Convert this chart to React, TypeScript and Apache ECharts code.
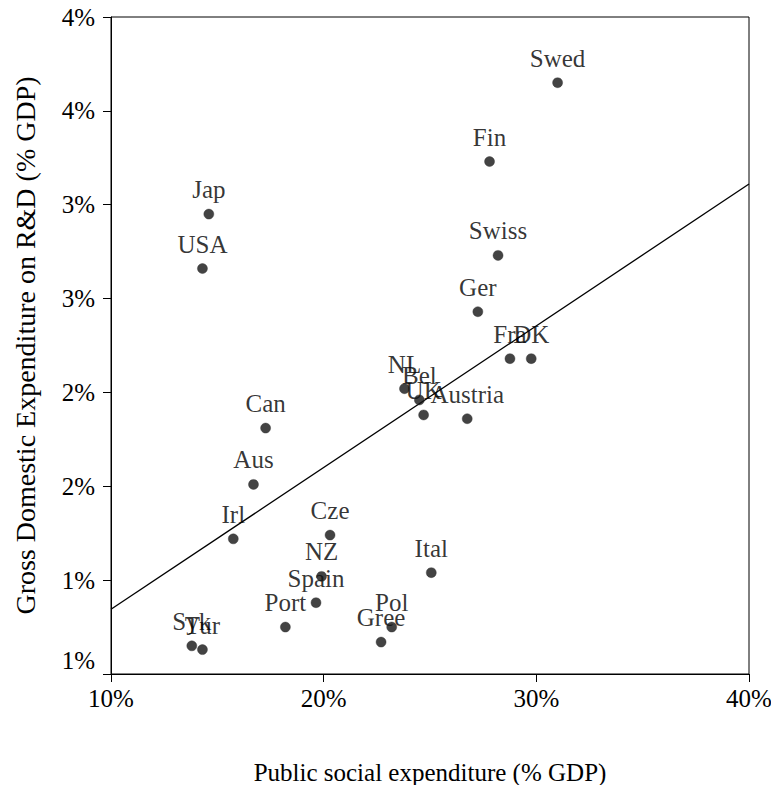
import React, { useEffect, useRef } from "react";
import * as echarts from "echarts";

const countries = ["Swed", "Fin", "Jap", "USA", "Swiss", "Ger", "Fra", "DK", "NL", "Bel", "UK", "Austria", "Can", "Aus", "Irl", "Cze", "NZ", "Spain", "Port", "Ital", "Pol", "Gree", "Syk", "Tur"];
const socialExp = [31.0, 27.8, 14.6, 14.3, 28.2, 27.25, 28.76, 29.76, 23.8, 24.5, 24.7, 26.75, 17.27, 16.7, 15.75, 20.3, 19.9, 19.64, 18.2, 25.06, 23.2, 22.7, 13.8, 14.3];
const rdExp = [3.65, 3.23, 2.95, 2.66, 2.73, 2.43, 2.18, 2.18, 2.02, 1.96, 1.88, 1.86, 1.81, 1.51, 1.22, 1.24, 1.02, 0.88, 0.75, 1.04, 0.75, 0.67, 0.65, 0.63];
const trendX = [10, 40];
const trendY = [0.845, 3.11];

const FONT = "'Liberation Serif', 'Times New Roman', serif";

export default function App() {
  const ref = useRef<HTMLDivElement>(null);
  useEffect(() => {
    if (!ref.current) return;
    const chart = echarts.init(ref.current, null, { renderer: "svg" });
    const pts = countries.map((c, i) => ({ name: c, value: [socialExp[i], rdExp[i]] }));
    const textBase = { color: "#000", fontFamily: FONT, fontSize: 25 };
    chart.setOption({
      animation: false,
      grid: {
        left: 111,
        right: 22,
        top: 17,
        bottom: 111,
        show: true,
        borderColor: "#000",
        borderWidth: 1,
        containLabel: false,
        outerBoundsMode: "none",
      },
      xAxis: {
        type: "value",
        min: 10,
        max: 40,
        interval: 10,
        axisLine: { show: true, lineStyle: { color: "#000", width: 1 } },
        axisTick: { show: true, length: 8, lineStyle: { color: "#000" } },
        splitLine: { show: false },
        axisLabel: { ...textBase, margin: 12, formatter: (v: number) => Math.round(v) + "%" },
        name: "Public social expenditure (% GDP)",
        nameLocation: "middle",
        nameGap: 86,
        nameTextStyle: textBase,
      },
      yAxis: {
        type: "value",
        min: 0.5,
        max: 4,
        interval: 0.5,
        axisLine: { show: true, lineStyle: { color: "#000", width: 1 } },
        axisTick: { show: true, length: 8, lineStyle: { color: "#000" } },
        splitLine: { show: false },
        axisLabel: {
          ...textBase,
          margin: 16,
          formatter: (v: number) => (Math.abs(v - 0.5) < 1e-6 ? "{low|" + Math.round(v) + "%}" : Math.round(v) + "%"),
          rich: { low: { ...textBase, padding: [0, 0, 28, 0] } },
        },
        name: "Gross Domestic Expenditure on R&D (% GDP)",
        nameLocation: "middle",
        nameGap: 72,
        nameTextStyle: { ...textBase, fontSize: 28 },
      },
      series: [
        {
          type: "line",
          data: trendX.map((x, i) => [x, trendY[i]]),
          showSymbol: false,
          symbol: "none",
          lineStyle: { color: "#000", width: 1.3 },
          z: 1,
          silent: true,
        },
        {
          type: "scatter",
          data: pts,
          symbolSize: 10,
          itemStyle: { color: "rgba(0,0,0,0)" },
          label: { show: true, position: "top", distance: 7, formatter: "{b}", ...textBase },
          z: 2,
          silent: true,
        },
        {
          type: "scatter",
          data: pts,
          symbolSize: 10,
          itemStyle: { color: "#141414", borderColor: "#333", borderWidth: 0.5 },
          z: 3,
          silent: true,
        },
      ],
    });
    return () => chart.dispose();
  }, []);
  return <div ref={ref} style={{ position: "absolute", left: 0, top: 0, width: 771, height: 785 }} />;
}
